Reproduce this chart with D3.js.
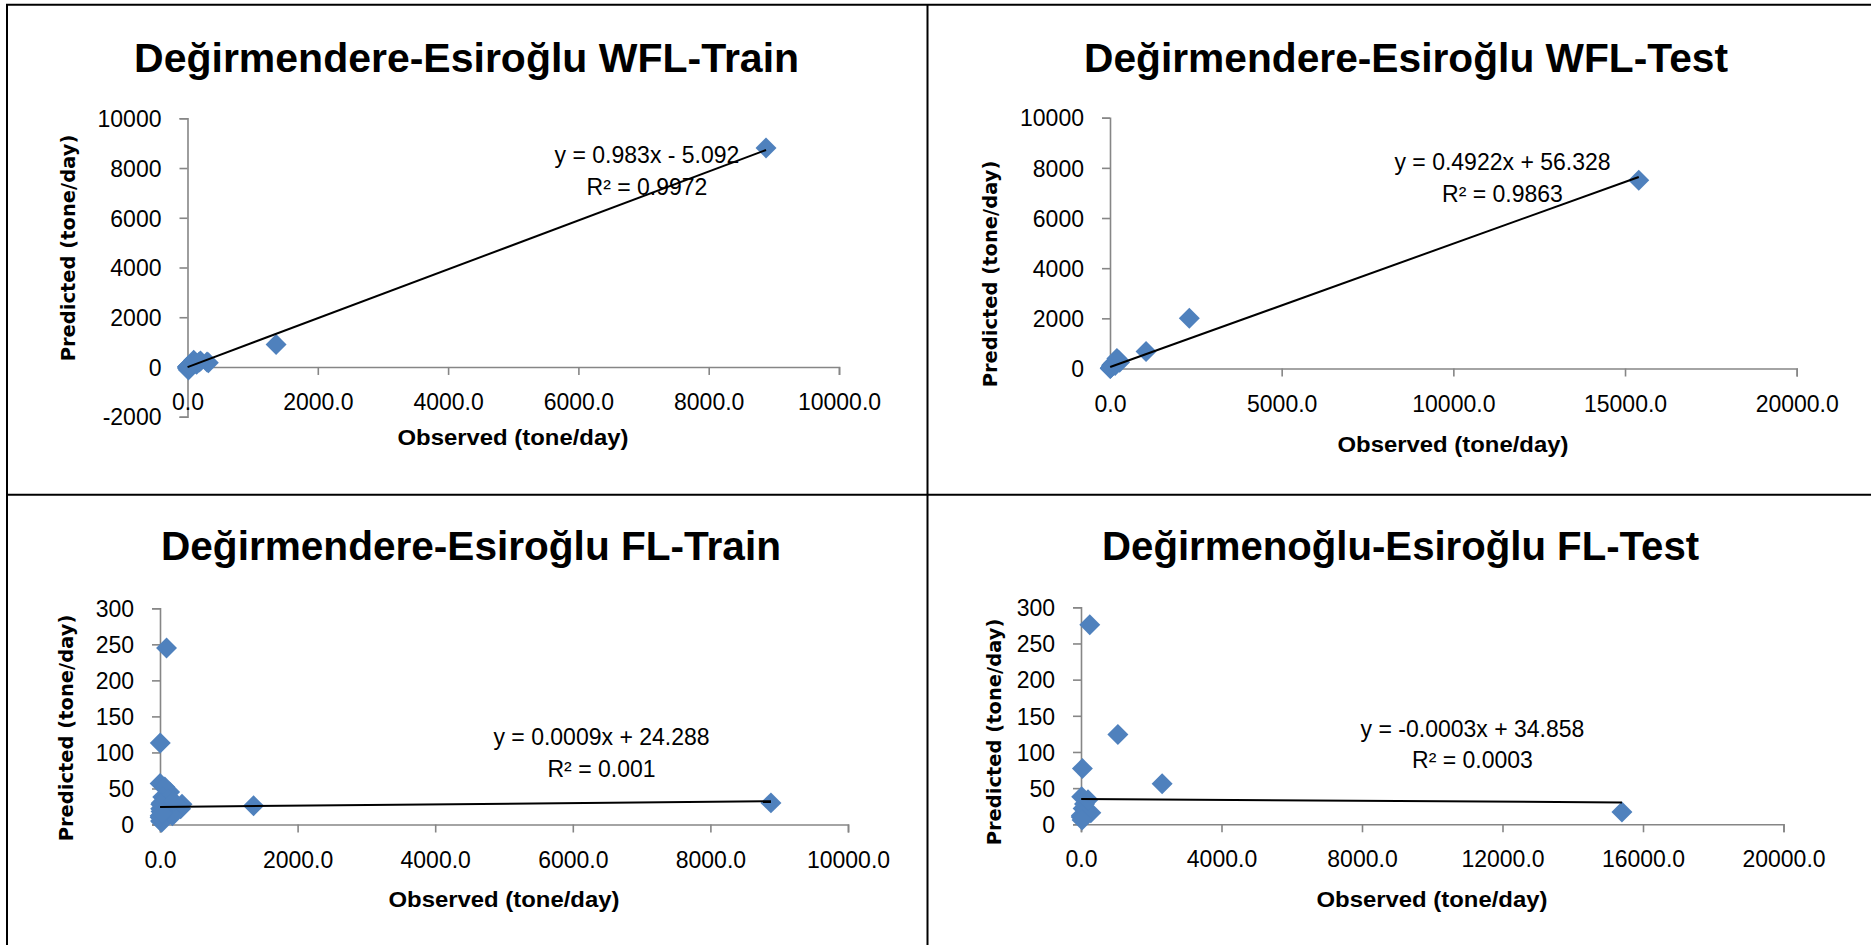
<!DOCTYPE html>
<html>
<head>
<meta charset="utf-8">
<script src="https://cdn.jsdelivr.net/npm/d3@7"></script>
<style>
  html, body { margin: 0; padding: 0; background: #fff; }
  svg { display: block; }
</style>
</head>
<body>
<svg id="chart" width="1871" height="945"></svg>
<script>
// ---- data ----------------------------------------------------------
// Training period: observed load and model predictions (tone/day)
const trainObserved = [8880, 1360, 320, 300, 95, 4, 2, 140, 70, 40, 20, 10, 60, 120, 30, 15, 8, 50, 3, 25, 80, 180, 1, 12, 35, 200];
const trainPredWFL  = [8810, 900, 170, 200, 270, 20, -60, 110, 60, 30, -20, 5, 90, 150, 10, -120, 0, 40, -10, 15, 100, 200, 0, 30, 60, 240];
const trainPredFL   = [30, 26, 28, 22, 245, 113, 57, 45, 52, 38, 30, 22, 15, 35, 8, 18, 5, 25, 12, 3, 20, 12, 10, 28, 16, 32];

// Test period: observed load and model predictions (tone/day)
const testObserved = [15400, 2310, 1050, 250, 40, 20, 60, 280, 5, 100, 10, 150, 30, 200];
const testPredWFL  = [7510, 2000, 680, 330, 100, 30, 150, 250, 10, 200, 0, 120, 50, 400];
const testPredFL   = [17, 56, 124, 276, 77, 38, 22, 16, 10, 28, 12, 18, 6, 34];

const panelTitles = [
  "Değirmendere-Esiroğlu WFL-Train",
  "Değirmendere-Esiroğlu WFL-Test",
  "Değirmendere-Esiroğlu FL-Train",
  "Değirmenoğlu-Esiroğlu FL-Test"
];

// Linear trendlines (slope, intercept, R²)
const trendSlopes     = [0.983, 0.4922, 0.0009, -0.0003];
const trendIntercepts = [-5.092, 56.328, 24.288, 34.858];
const trendR2         = ["0.9972", "0.9863", "0.001", "0.0003"];

// Axis ticks
const xTicksWFLTrain = [0, 2000, 4000, 6000, 8000, 10000];
const xTicksWFLTest  = [0, 5000, 10000, 15000, 20000];
const xTicksFLTrain  = [0, 2000, 4000, 6000, 8000, 10000];
const xTicksFLTest   = [0, 4000, 8000, 12000, 16000, 20000];
const yTicksWFLTrain = [-2000, 0, 2000, 4000, 6000, 8000, 10000];
const yTicksWFLTest  = [0, 2000, 4000, 6000, 8000, 10000];
const yTicksFL       = [0, 50, 100, 150, 200, 250, 300];

const xAxisTitle = "Observed (tone/day)";
const yAxisTitle = "Predicted (tone/day)";

// ---- panels ----------------------------------------------------------
const panels = [
  { title: panelTitles[0], x: trainObserved, y: trainPredWFL, xTicks: xTicksWFLTrain, yTicks: yTicksWFLTrain,
    layout: { px: [187.5, 839], py: [416.7, 118.3], titleX: 466.6, titleY: 72, titleW: 665,
              eqX: 647, eqY: [163, 195], xlabY: 445, xlabX: 513, ylabX: 68.6, ylabY: 248 } },
  { title: panelTitles[1], x: testObserved, y: testPredWFL, xTicks: xTicksWFLTest, yTicks: yTicksWFLTest,
    layout: { px: [1110, 1796.7], py: [368.5, 117.7], titleX: 1406, titleY: 72, titleW: 644,
              eqX: 1502.5, eqY: [170, 201.7], xlabY: 452, xlabX: 1453, ylabX: 991, ylabY: 274 } },
  { title: panelTitles[2], x: trainObserved, y: trainPredFL, xTicks: xTicksFLTrain, yTicks: yTicksFL,
    layout: { px: [160, 848], py: [824.5, 608.3], titleX: 471, titleY: 560, titleW: 620,
              eqX: 601.5, eqY: [745, 776.7], xlabY: 907, xlabX: 504, ylabX: 67, ylabY: 728 } },
  { title: panelTitles[3], x: testObserved, y: testPredFL, xTicks: xTicksFLTest, yTicks: yTicksFL,
    layout: { px: [1081, 1783.5], py: [824.3, 607.3], titleX: 1400.6, titleY: 560, titleW: 597,
              eqX: 1472.5, eqY: [736.7, 768.3], xlabY: 907, xlabX: 1432, ylabX: 994.6, ylabY: 732 } }
];

const svg = d3.select("#chart");
const fontSans = "'Liberation Sans', Arial, sans-serif";
const axisColor = "#868686";
const markerColor = "#4F81BD";

// ---- table borders -------------------------------------------------
const borders = svg.append("g").attr("stroke", "#000").attr("stroke-width", 2);
borders.append("line").attr("x1", 6).attr("x2", 1871).attr("y1", 4.7).attr("y2", 4.7);
borders.append("line").attr("x1", 6).attr("x2", 1871).attr("y1", 494.7).attr("y2", 494.7);
borders.append("line").attr("x1", 7).attr("x2", 7).attr("y1", 4).attr("y2", 945);
borders.append("line").attr("x1", 927.5).attr("x2", 927.5).attr("y1", 4).attr("y2", 945);

// plain hyphen for negatives, as in the spreadsheet labels
const fmtX = v => d3.format(".1f")(v).replace("\u2212", "-");
const fmtY = v => d3.format("d")(v).replace("\u2212", "-");
const diamond = d3.symbol(d3.symbolSquare, 220);

panels.forEach((p, i) => {
  const L = p.layout;
  const g = svg.append("g");

  const x = d3.scaleLinear().domain(d3.extent(p.xTicks)).range(L.px);
  const y = d3.scaleLinear().domain(d3.extent(p.yTicks)).range(L.py);

  // title
  g.append("text")
    .attr("x", L.titleX).attr("y", L.titleY)
    .attr("text-anchor", "middle")
    .attr("font-family", fontSans).attr("font-weight", "bold").attr("font-size", 40)
    .attr("textLength", L.titleW).attr("lengthAdjust", "spacingAndGlyphs")
    .text(p.title);

  // y axis (vertical line at x = 0)
  const yAxis = d3.axisLeft(y).tickValues(p.yTicks).tickFormat(fmtY).tickSize(8).tickPadding(18);
  const gy = g.append("g").attr("transform", `translate(${x(0)},0)`).call(yAxis);
  gy.select(".domain").attr("stroke", axisColor).attr("stroke-width", 1.6);
  gy.selectAll(".tick line").attr("stroke", axisColor).attr("stroke-width", 1.6);
  gy.selectAll(".tick text")
    .attr("font-family", fontSans).attr("font-size", 23).attr("fill", "#000")
    .attr("dy", "0.36em");

  // x axis (horizontal line at y = 0)
  const xAxis = d3.axisBottom(x).tickValues(p.xTicks).tickFormat(fmtX).tickSize(8).tickPadding(0);
  const gx = g.append("g").attr("transform", `translate(0,${y(0)})`).call(xAxis);
  gx.select(".domain").attr("stroke", axisColor).attr("stroke-width", 1.6);
  gx.selectAll(".tick line").attr("stroke", axisColor).attr("stroke-width", 1.6);
  gx.selectAll(".tick text")
    .attr("font-family", fontSans).attr("font-size", 23).attr("fill", "#000")
    .attr("y", 43).attr("dy", 0);

  // axis titles
  g.append("text")
    .attr("x", L.xlabX).attr("y", L.xlabY)
    .attr("text-anchor", "middle")
    .attr("font-family", fontSans).attr("font-weight", "bold").attr("font-size", 22.5)
    .attr("textLength", 231).attr("lengthAdjust", "spacingAndGlyphs")
    .text(xAxisTitle);

  g.append("text")
    .attr("transform", `translate(${L.ylabX},${L.ylabY}) rotate(-90)`)
    .attr("text-anchor", "middle").attr("dy", "0.31em")
    .attr("font-family", "'DejaVu Sans', Verdana, sans-serif").attr("font-weight", "bold").attr("font-size", 19.5)
    .text(yAxisTitle);

  // scatter markers
  const pts = p.x.map((v, k) => [v, p.y[k]]);
  g.append("g").selectAll("path").data(pts).join("path")
    .attr("d", diamond)
    .attr("transform", d => `translate(${x(d[0])},${y(d[1])}) rotate(45)`)
    .attr("fill", markerColor);

  // linear trendline over the observed range
  const m = trendSlopes[i], b = trendIntercepts[i];
  const [xmin, xmax] = d3.extent(p.x);
  g.append("path")
    .datum([xmin, xmax])
    .attr("d", d3.line().x(v => x(v)).y(v => y(m * v + b)))
    .attr("stroke", "#000").attr("stroke-width", 2).attr("fill", "none");

  // trendline equation and R²
  const eq = `y = ${m}x ${b < 0 ? "-" : "+"} ${Math.abs(b)}`;
  const eqText = g.append("g")
    .attr("font-family", fontSans).attr("font-size", 23).attr("text-anchor", "middle");
  eqText.append("text").attr("x", L.eqX).attr("y", L.eqY[0]).text(eq);
  eqText.append("text").attr("x", L.eqX).attr("y", L.eqY[1]).text(`R² = ${trendR2[i]}`);
});
</script>
</body>
</html>
